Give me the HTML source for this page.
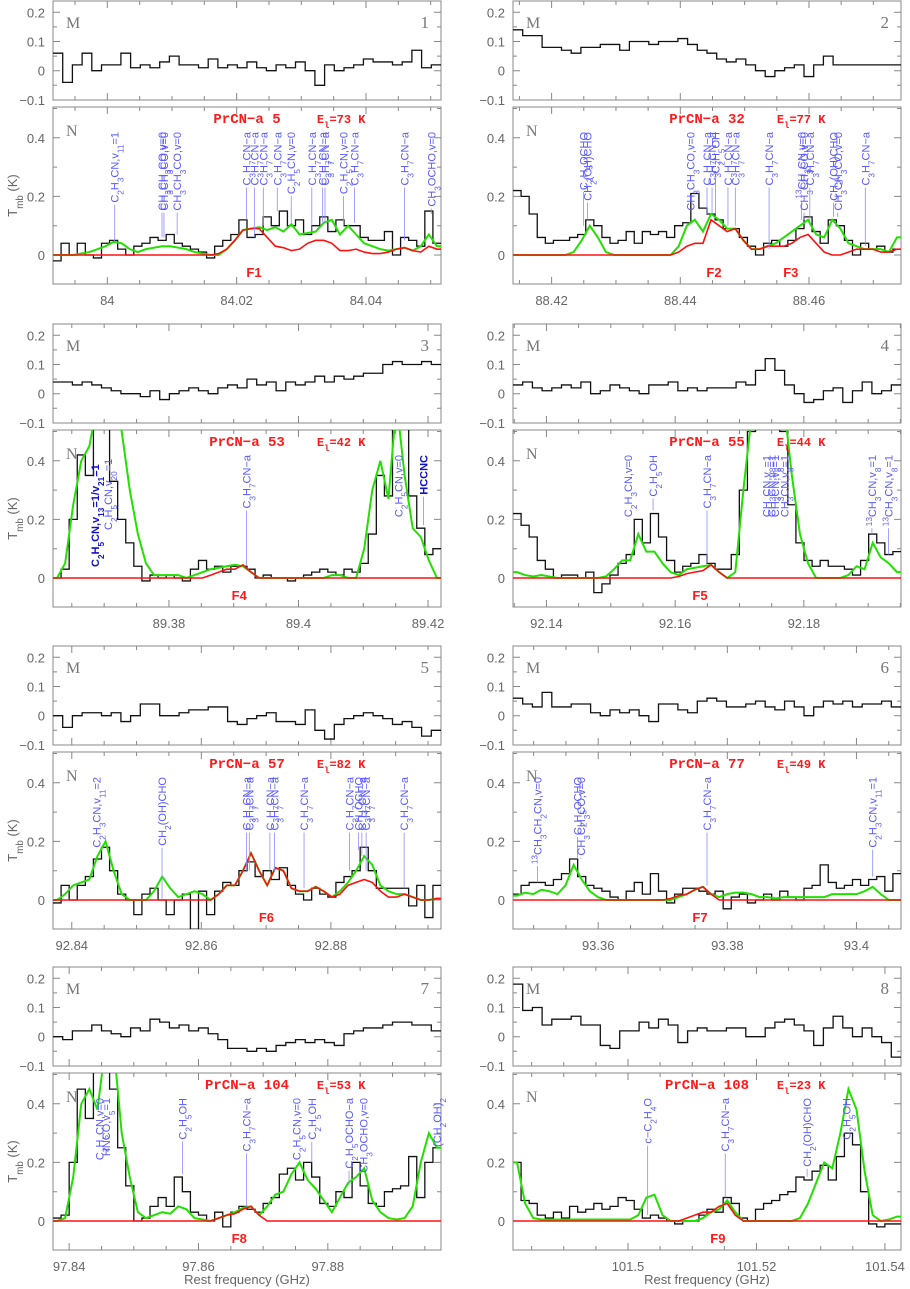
<!DOCTYPE html>
<html><head><meta charset="utf-8">
<style>
html,body{margin:0;padding:0;background:#fff;}
svg{display:block;}
</style></head>
<body>
<svg id="fig" width="910" height="1289" viewBox="0 0 910 1289" xmlns="http://www.w3.org/2000/svg"></svg>
<script>
// ---------- data ----------
const p1_range=[83.9916,84.0516];
const p1_ticks=[84,84.02,84.04];
const p1_M=[0.06,-0.04,0.02,0.06,0.0,0.02,0.02,0.06,0.01,0.02,0.01,0.03,0.05,0.02,0.02,0.01,0.04,0.01,0.02,0.01,0.03,0.01,0.0,0.02,0.01,0.03,0.0,-0.05,0.02,0.0,0.01,0.02,0.04,0.03,0.03,0.02,0.03,0.07,0.01,0.02];
const p1_obs=[-0.02,0.04,0.0,0.04,0.0,-0.01,0.04,0.05,0.02,0.0,0.03,0.04,0.06,0.05,0.07,0.04,0.03,0.02,0.01,-0.01,0.03,0.05,0.07,0.12,0.06,0.07,0.13,0.1,0.15,0.1,0.12,0.07,0.1,0.13,0.08,0.12,0.1,0.1,0.06,0.05,0.05,0.08,0.0,0.06,0.05,0.03,0.15,0.04];
const p1_model=[0,0,0,0.005,0.01,0.02,0.03,0.045,0.04,0.02,0.01,0.02,0.025,0.03,0.03,0.025,0.02,0.01,0.005,0,0,0.02,0.05,0.085,0.09,0.095,0.085,0.095,0.08,0.105,0.07,0.075,0.08,0.11,0.12,0.07,0.1,0.07,0.04,0.03,0.02,0.015,0.02,0.025,0.015,0.03,0.07,0.03];
const p1_fit=[0,0,0,0,0,0,0,0,0,0,0,0,0,0,0,0,0,0,0,0,0.005,0.02,0.05,0.085,0.09,0.09,0.06,0.03,0.025,0.015,0.02,0.04,0.05,0.05,0.04,0.015,0.015,0.02,0.01,0.005,0.005,0.01,0.02,0.025,0.015,0.01,0.03,0.02];

const p2_range=[88.414,88.4743];
const p2_ticks=[88.42,88.44,88.46];
const p2_M=[0.14,0.12,0.12,0.08,0.08,0.07,0.06,0.08,0.08,0.09,0.09,0.07,0.1,0.1,0.09,0.1,0.1,0.11,0.09,0.07,0.06,0.04,0.03,0.04,0.02,0.0,-0.02,0.0,0.01,0.02,-0.02,0.02,0.05,0.02,0.02,0.02,0.02,0.02,0.02,0.02];
const p2_obs=[0.22,0.2,0.14,0.06,0.04,0.05,0.05,0.06,0.07,0.12,0.1,0.06,0.04,0.05,0.08,0.04,0.08,0.07,0.08,0.06,0.1,0.11,0.21,0.16,0.14,0.12,0.09,0.09,0.06,0.03,0.0,0.04,0.05,0.03,0.05,0.09,0.13,0.08,0.04,0.12,0.1,0.05,0.0,0.04,0.02,0.03,0.01,0.02];
const p2_model=[0,0,0,0,0,0,0,0.01,0.05,0.1,0.06,0.01,0,0,0,0,0,0,0,0,0.03,0.1,0.12,0.08,0.14,0.12,0.09,0.09,0.05,0.02,0.02,0.03,0.04,0.06,0.08,0.1,0.12,0.07,0.06,0.12,0.09,0.04,0.03,0.02,0.02,0.02,0.01,0.06];
const p2_fit=[0,0,0,0,0,0,0,0,0,0,0,0,0,0,0,0,0,0,0,0,0.01,0.03,0.04,0.04,0.12,0.1,0.08,0.09,0.05,0.02,0.02,0.03,0.03,0.03,0.04,0.06,0.07,0.04,0.01,0.0,0.0,0.01,0.02,0.02,0.02,0.01,0.01,0.02];

const p3_range=[89.3621,89.422];
const p3_ticks=[89.38,89.4,89.42];
const p3_M=[0.04,0.04,0.03,0.04,0.03,0.02,0.01,0.0,0.0,-0.01,0.01,-0.02,0.0,0.01,0.02,0.01,0.0,0.02,0.03,0.02,0.05,0.03,0.04,0.01,0.04,0.03,0.04,0.06,0.04,0.06,0.05,0.06,0.07,0.07,0.1,0.11,0.1,0.1,0.11,0.1];
const p3_obs=[0.0,0.03,0.2,0.42,0.35,0.6,0.6,0.33,0.2,0.12,0.04,-0.01,0.01,0.0,0.01,0.0,-0.01,0.03,0.06,0.03,0.04,0.02,0.04,0.04,0.03,0.0,0.01,0.0,0.0,-0.01,0.0,0.01,0.02,0.03,0.02,0.01,0.03,0.02,0.05,0.15,0.35,0.28,0.6,0.55,0.28,0.17,0.08,0.1];
const p3_model=[0.0,0.05,0.25,0.4,0.45,0.6,0.6,0.6,0.5,0.3,0.15,0.05,0.01,0.01,0.01,0.01,0.0,0.01,0.02,0.03,0.035,0.04,0.045,0.04,0.02,0,0,0,0,0,0,0,0,0,0.01,0.01,0,0,0.1,0.3,0.4,0.27,0.6,0.35,0.17,0.14,0.06,0.0];
const p3_fit=[0,0,0,0,0,0,0,0,0,0,0,0,0,0,0,0,0,0,0,0.01,0.02,0.03,0.03,0.045,0.02,0,0,0,0,0,0,0,0,0,0,0,0,0,0,0,0,0,0,0,0,0,0,0];

const p4_range=[92.1348,92.1951];
const p4_ticks=[92.14,92.16,92.18];
const p4_M=[0.03,0.04,0.02,0.01,0.02,0.03,0.02,0.04,0.0,0.01,0.03,0.02,0.01,0.0,0.03,0.03,0.04,0.01,0.02,0.01,0.02,0.02,0.02,0.04,0.03,0.08,0.12,0.08,0.03,0.0,-0.03,-0.02,0.01,0.02,-0.03,0.01,0.04,0.0,0.01,0.03];
const p4_obs=[0.22,0.18,0.14,0.06,0.03,0.0,0.01,0.01,0.0,0.02,-0.05,-0.02,0.01,0.05,0.08,0.2,0.12,0.22,0.14,0.06,0.02,0.04,0.05,0.08,0.05,0.03,0.03,0.08,0.3,0.5,0.55,0.6,0.6,0.5,0.25,0.12,0.06,0.04,0.06,0.04,0.04,0.03,0.01,0.06,0.15,0.12,0.08,0.09];
const p4_model=[0.02,0.01,0.005,0.01,0.005,0,0,0,0,0,0,0.005,0.03,0.06,0.06,0.15,0.09,0.09,0.05,0.02,0.01,0.03,0.035,0.04,0.045,0.02,0.0,0.02,0.3,0.55,0.6,0.6,0.6,0.6,0.35,0.15,0.05,0,0,0,0,0.01,0.04,0.03,0.12,0.07,0.05,0.02];
const p4_fit=[0,0,0,0,0,0,0,0,0,0,0,0,0,0,0,0,0,0,0,0,0.005,0.015,0.02,0.025,0.045,0.02,0,0,0,0,0,0,0,0,0,0,0,0,0,0,0,0,0,0,0,0,0,0];

const p5_range=[92.8371,92.897];
const p5_ticks=[92.84,92.86,92.88];
const p5_M=[0.0,-0.04,0.0,0.01,0.01,0.0,0.01,-0.02,0.0,0.04,0.04,0.0,0.0,0.01,0.02,0.02,0.03,0.03,-0.02,-0.03,-0.01,0.0,0.01,-0.02,-0.02,-0.03,0.02,-0.05,-0.08,-0.03,-0.01,0.0,0.01,0.0,-0.01,-0.03,-0.02,-0.04,-0.07,-0.05];
const p5_obs=[-0.01,0.05,0.0,0.05,0.08,0.14,0.18,0.1,0.02,0.0,-0.05,0.02,0.04,0.0,-0.05,0.0,0.02,-0.1,0.03,-0.05,0.03,0.06,0.05,0.1,0.13,0.08,0.1,0.07,0.11,0.05,0.02,0.0,0.04,0.02,0.01,0.06,0.08,0.1,0.18,0.1,0.04,0.04,0.04,0.04,-0.02,0.05,-0.06,0.05];
const p5_model=[0,0.02,0.05,0.06,0.07,0.15,0.2,0.1,0.02,0,0,0,0.03,0.08,0.04,0.01,0.02,0.03,0.02,0,0.02,0.05,0.05,0.1,0.16,0.1,0.05,0.11,0.1,0.04,0.03,0.03,0.045,0.03,0.01,0.03,0.06,0.1,0.15,0.12,0.05,0.03,0.02,0.02,0.01,0,0,0.005];
const p5_fit=[0,0,0,0,0,0,0,0,0,0,0,0,0,0,0,0,0,0,0,0,0.02,0.05,0.05,0.1,0.16,0.1,0.05,0.11,0.1,0.04,0.03,0.03,0.045,0.03,0.01,0.02,0.05,0.06,0.07,0.06,0.03,0.01,0.01,0.02,0.01,0,0,0.005];

const p6_range=[93.3468,93.4069];
const p6_ticks=[93.36,93.38,93.4];
const p6_M=[0.06,0.04,0.03,0.08,0.03,0.03,0.04,0.04,0.01,0.0,0.02,0.01,0.02,0.0,-0.02,0.04,0.04,0.02,0.01,0.05,0.06,0.05,0.03,0.03,0.04,0.05,0.03,0.02,0.05,0.03,0.0,0.03,0.05,0.04,0.05,0.03,0.04,0.04,0.05,0.03];
const p6_obs=[0.02,0.05,0.06,0.06,0.05,0.07,0.09,0.14,0.08,0.05,0.04,0.03,0.01,0.0,0.03,0.06,0.02,0.09,0.03,-0.01,0.02,0.04,0.04,0.03,0.02,0.03,-0.03,0.01,0.02,-0.01,0.0,0.02,0.0,0.03,0.01,0.0,0.04,0.05,0.12,0.06,0.04,0.05,0.07,0.05,0.07,0.08,0.03,0.09];
const p6_model=[0.015,0.025,0.02,0.035,0.03,0.02,0.05,0.12,0.07,0.03,0.01,0,0,0,0,0,0,0,0,0,0.01,0.02,0.035,0.045,0.02,0.01,0.02,0.025,0.025,0.02,0.01,0.01,0.005,0.01,0.01,0.01,0.01,0.01,0.01,0.02,0.02,0.02,0.02,0.03,0.045,0.02,0,0];
const p6_fit=[0,0,0,0,0,0,0,0,0,0,0,0,0,0,0,0,0,0,0,0.005,0.015,0.02,0.035,0.045,0.02,0,0,0,0,0,0,0,0,0,0,0,0,0,0,0,0,0,0,0,0,0,0,0];

const p7_range=[97.8375,97.8975];
const p7_ticks=[97.84,97.86,97.88];
const p7_M=[0.0,-0.01,0.02,0.02,0.04,0.02,0.01,0.0,0.03,0.02,0.06,0.05,0.03,0.04,0.02,0.03,0.01,-0.01,-0.04,-0.04,-0.05,-0.04,-0.05,-0.03,-0.02,-0.01,-0.02,-0.01,-0.02,-0.03,0.01,0.02,0.03,0.03,0.04,0.05,0.05,0.04,0.04,0.02];
const p7_obs=[0.01,0.02,0.2,0.45,0.35,0.6,0.6,0.45,0.25,0.12,0.0,0.01,0.05,0.08,0.05,0.15,0.1,0.03,0.02,0.0,0.03,-0.02,0.03,0.05,0.04,0.03,0.06,0.08,0.16,0.18,0.14,0.2,0.15,0.06,0.05,0.1,0.08,0.2,0.12,0.06,0.05,0.1,0.11,0.12,0.22,0.08,0.2,0.25];
const p7_model=[0,0.01,0.15,0.4,0.45,0.38,0.6,0.6,0.3,0.15,0.03,0.01,0.02,0.03,0.025,0.05,0.04,0.01,0.005,0,0.01,0.02,0.03,0.045,0.05,0.02,0.05,0.09,0.1,0.16,0.2,0.14,0.11,0.07,0.03,0.08,0.13,0.15,0.18,0.07,0.03,0.01,0.005,0.01,0.05,0.2,0.3,0.25];
const p7_fit=[0,0,0,0,0,0,0,0,0,0,0,0,0,0,0,0,0,0,0,0,0.01,0.02,0.025,0.04,0.05,0.02,0,0,0,0,0,0,0,0,0,0,0,0,0,0,0,0,0,0,0,0,0,0];

const p8_range=[101.4821,101.5425];
const p8_ticks=[101.5,101.52,101.54];
const p8_M=[0.18,0.09,0.1,0.04,0.06,0.06,0.07,0.04,0.04,-0.03,-0.04,0.02,0.02,0.05,0.03,0.06,0.04,-0.02,0.02,0.03,0.02,0.02,0.03,0.03,0.0,0.0,0.03,0.05,0.06,0.04,0.02,-0.03,0.03,0.07,0.03,0.0,0.03,0.0,-0.02,-0.07];
const p8_obs=[0.2,0.07,0.06,0.02,0.01,0.03,0.01,0.05,0.03,0.04,0.06,0.04,0.05,0.08,0.07,0.04,0.01,0.02,0.01,0.0,-0.01,0.0,0.0,0.02,0.04,0.03,0.08,0.06,0.01,0.0,0.04,0.06,0.07,0.09,0.1,0.15,0.14,0.17,0.19,0.14,0.22,0.3,0.26,0.1,-0.01,-0.02,-0.01,-0.01];
const p8_model=[0.2,0.06,0.01,0.005,0.005,0.005,0.005,0.005,0.005,0.005,0.005,0.005,0.005,0.005,0.005,0.02,0.08,0.09,0.02,0,0,0,0,0.01,0.03,0.04,0.07,0.03,0,0,0,0,0,0,0,0.01,0.06,0.13,0.2,0.18,0.3,0.45,0.38,0.17,0.02,0,0.005,0.015];
const p8_fit=[0,0,0,0,0,0,0,0,0,0,0,0,0,0,0,0,0,0,0,0,0,0.01,0.02,0.03,0.03,0.05,0.06,0.02,0,0,0,0,0,0,0,0,0,0,0,0,0,0,0,0,0,0,0,0];

// panel annotations
const p1_title=["PrCN\u2212a 5","73","F1"];
const p2_title=["PrCN\u2212a 32","77","F2"];
const p3_title=["PrCN\u2212a 53","42","F4"];
const p4_title=["PrCN\u2212a 55","44","F5"];
const p5_title=["PrCN\u2212a 57","82","F6"];
const p6_title=["PrCN\u2212a 77","49","F7"];
const p7_title=["PrCN\u2212a 104","53","F8"];
const p8_title=["PrCN\u2212a 108","23","F9"];

const p1_lines=[[.159,"C_{2}H_{3}CN,v_{11}=1",.045],[.281,"CH_{3}CH_{3}CO,v=0",.06],[.286,"CH_{3}CH_{3}CO,v=0",.06],[.32,"CH_{3}CH_{3}CO,v=0",.07],[.499,"C_{3}H_{7}CN\u2212a",.12],[.519,"C_{3}H_{7}CN\u2212a",.06],[.542,"C_{3}H_{7}CN\u2212a",.1],[.578,"C_{3}H_{7}CN\u2212a",.15],[.614,"C_{2}H_{5}CN,v=0",.11],[.667,"C_{3}H_{7}CN\u2212a",.08],[.695,"C_{3}H_{7}CN\u2212a",.11],[.701,"C_{3}H_{7}CN\u2212a",.11],[.749,"C_{2}H_{5}CN,v=0",.1],[.777,"C_{3}H_{7}CN\u2212a",.11],[.906,"C_{3}H_{7}CN\u2212a",.05],[.975,"CH_{3}OCHO,v=0",.14]];
const p2_lines=[[.182,"C_{2}H_{5}OCHO",.1],[.192,"CH_{2}(OH)CHO",.12],[.457,"CH_{3}CH_{3}CO,v=0",.2],[.5,"C_{3}H_{7}CN\u2212a",.14],[.513,"C_{3}H_{7}CN\u2212a",.14],[.522,"C_{2}H_{5}OH",.14],[.554,"C_{3}H_{7}CN\u2212a",.1],[.573,"C_{3}H_{7}CN\u2212a",.1],[.66,"C_{3}H_{7}CN\u2212a",.02],[.744,"^{13}CH_{3}CN,v=0",.12],[.75,"CH_{3}CH_{3}CO,v=0",.12],[.765,"C_{3}H_{7}CN\u2212a",.1],[.826,"CH_{2}(OH)CHO",.13],[.837,"CH_{3}CH_{3}CO,v=0",.13],[.908,"C_{3}H_{7}CN\u2212a",.03]];
const p3_lines=[[.499,"C_{3}H_{7}CN\u2212a",.045],[.891,"C_{2}H_{5}CN,v=0",.3],[.955,"HCCNC",.18]];
const p4_lines=[[.296,"C_{2}H_{3}CN,v=0",.2],[.361,"C_{2}H_{5}OH",.23],[.5,"C_{3}H_{7}CN\u2212a",.05],[.653,"CH_{3}CN,v_{8}=1",.5],[.666,"CH_{3}CN,v_{8}=1",.5],[.675,"CH_{3}CN,v_{8}=1",.5],[.7,"CH_{3}CN,v_{8}=1",.5],[.925,"^{13}CH_{3}CN,v_{8}=1",.15],[.968,"^{13}CH_{3}CN,v_{8}=1",.08]];
const p5_lines=[[.112,"C_{2}H_{3}CN,v_{11}=2",.18],[.281,"CH_{2}(OH)CHO",.0],[.499,"C_{3}H_{7}CN\u2212a",.1],[.506,"C_{3}H_{7}CN\u2212a",.1],[.559,"C_{3}H_{7}CN\u2212a",.1],[.571,"C_{3}H_{7}CN\u2212a",.1],[.647,"C_{3}H_{7}CN\u2212a",.04],[.764,"C_{3}H_{7}CN\u2212a",.1],[.787,"CH_{3}OCHO",.17],[.796,"C_{3}H_{7}CN\u2212a",.15],[.807,"C_{3}H_{7}CN\u2212a",.1],[.905,"C_{3}H_{7}CN\u2212a",.04]];
const p6_lines=[[.063,"^{13}CH_{3}CH_{2}CN,v=0",.06],[.166,"C_{2}H_{5}OCHO",.14],[.175,"CH_{3}CH_{3}CO,v=0",.14],[.5,"C_{3}H_{7}CN\u2212a",.05],[.927,"C_{2}H_{3}CN,v_{11}=1",.08]];
const p7_lines=[[.12,"C_{2}H_{5}CN,v=0",.3],[.136,"HNCO,v_{5}=1",.3],[.334,"C_{2}H_{5}OH",.16],[.499,"C_{3}H_{7}CN\u2212a",.05],[.628,"C_{2}H_{5}CN,v=0",.2],[.667,"C_{2}H_{5}OH",.2],[.763,"C_{2}H_{5}OCHO\u2212a",.12],[.8,"CH_{3}OCHO,v=0",.2],[.99,"(CH_{2}OH)_{2}",.25]];
const p8_lines=[[.347,"c\u2212C_{2}H_{4}O",.02],[.547,"C_{3}H_{7}CN\u2212a",.08],[.758,"CH_{2}(OH)CHO",.15],[.86,"C_{2}H_{5}OH",.3]];

const panels=[
 {n:1,range:p1_range,ticks:p1_ticks,M:p1_M,obs:p1_obs,model:p1_model,fit:p1_fit,title:p1_title,lines:p1_lines,f2:0.716,fx:.518},
 {n:2,range:p2_range,ticks:p2_ticks,M:p2_M,obs:p2_obs,model:p2_model,fit:p2_fit,title:p2_title,lines:p2_lines,fx:.518,extraF:["F3",.716]},
 {n:3,range:p3_range,ticks:p3_ticks,M:p3_M,obs:p3_obs,model:p3_model,fit:p3_fit,title:p3_title,lines:p3_lines,fx:.48},
 {n:4,range:p4_range,ticks:p4_ticks,M:p4_M,obs:p4_obs,model:p4_model,fit:p4_fit,title:p4_title,lines:p4_lines,fx:.482},
 {n:5,range:p5_range,ticks:p5_ticks,M:p5_M,obs:p5_obs,model:p5_model,fit:p5_fit,title:p5_title,lines:p5_lines,fx:.55},
 {n:6,range:p6_range,ticks:p6_ticks,M:p6_M,obs:p6_obs,model:p6_model,fit:p6_fit,title:p6_title,lines:p6_lines,fx:.482},
 {n:7,range:p7_range,ticks:p7_ticks,M:p7_M,obs:p7_obs,model:p7_model,fit:p7_fit,title:p7_title,lines:p7_lines,fx:.48},
 {n:8,range:p8_range,ticks:p8_ticks,M:p8_M,obs:p8_obs,model:p8_model,fit:p8_fit,title:p8_title,lines:p8_lines,fx:.528}
];

// ---------- drawing ----------
const NS="http://www.w3.org/2000/svg";
const svg=document.getElementById('fig');
function mk(tag,attrs,parent){const e=document.createElementNS(NS,tag);for(const k in attrs)e.setAttribute(k,attrs[k]);(parent||svg).appendChild(e);return e;}
const ROWS=[0,323,645,966];
const W=388;
function richText(t,str,size){
  // parse _{..} subscripts and ^{..} superscripts
  const re=/([_^])\{([^}]*)\}/g;let last=0,m;
  while((m=re.exec(str))){
    if(m.index>last){const s=mk('tspan',{},t);s.textContent=str.slice(last,m.index);}
    const s=mk('tspan',{'baseline-shift':m[1]=='_'?'sub':'super','font-size':size*0.75},t);s.textContent=m[2];
    last=re.lastIndex;
  }
  if(last<str.length){const s=mk('tspan',{},t);s.textContent=str.slice(last);}
}
panels.forEach((p,k)=>{
  const col=k%2,row=Math.floor(k/2),o=ROWS[row];
  const x0=col?513:53,x1=x0+W;
  const f0=p.range[0],f1=p.range[1];
  const X=f=>x0+(f-f0)/(f1-f0)*W;
  const Mtop=1+o,Mbot=100+o,My=v=>70.7+o-v*292;
  const Ntop=107+o,Nbot=284+o,Ny=v=>255+o-v*293;
  const g=mk('g',{});
  
  
  const cid='clip'+k;
  const defs=mk('defs',{},g);
  const c1=mk('clipPath',{id:cid+'m'},defs);mk('rect',{x:x0,y:Mtop,width:W,height:Mbot-Mtop},c1);
  const c2=mk('clipPath',{id:cid+'n'},defs);mk('rect',{x:x0,y:Ntop,width:W,height:Nbot-Ntop},c2);

  // frames, ticks
  [[Mtop,Mbot,My,0.1,0.05,[-0.1,0,0.1,0.2],'m'],[Ntop,Nbot,Ny,0.2,0.1,[0,0.2,0.4],'n']].forEach(([t,b,Y,maj,mn,labs,kind])=>{
    const fr=mk('rect',{x:x0,y:t,width:W,height:b-t,fill:'none',stroke:'#888','stroke-width':1},g);
    
    
    let d='';
    for(let v=-0.2;v<=0.6;v+=mn){const vv=Math.round(v*100)/100;const y=Y(vv);if(y<t+0.5||y>b-0.5)continue;
      const isMaj=Math.abs(vv/maj-Math.round(vv/maj))<1e-6;const L=isMaj?7:4;
      d+=`M${x0},${y}h${L}M${x1},${y}h${-L}`;}
    for(let f=Math.ceil(f0/0.005)*0.005;f<=f1;f+=0.005){const ff=Math.round(f*1000)/1000;const x=X(ff);
      const isMaj=Math.abs(ff/0.02-Math.round(ff/0.02))<1e-6;const L=isMaj?7:4;
      d+=`M${x},${b}v${-L}M${x},${t}v${L}`;}
    const tk=mk('path',{d:d,stroke:'#888','stroke-width':1,fill:'none'},g);
    
    
    labs.forEach(v=>{const y=Y(v);if(y<t-1||y>b+1)return;
      const tx=mk('text',{x:x0-8,y:y+5,'text-anchor':'end','font-family':'Liberation Sans, sans-serif','font-size':13,fill:'#666'},g);
      tx.textContent=(v<0?'\u2212':'')+Math.abs(v).toString().replace(/^0$/,'0');
      
      });
  });
  // x tick labels
  p.ticks.forEach(f=>{const tx=mk('text',{x:X(f),y:Nbot+21,'text-anchor':'middle','font-family':'Liberation Sans, sans-serif','font-size':13,fill:'#666'},g);
    tx.textContent=String(f);
    
    });

  // step line
  function step(vals,Y){const n=vals.length,dw=(f1-f0)/n;let d='';
    vals.forEach((v,i)=>{const xa=X(f0+i*dw),xb=X(f0+(i+1)*dw),y=Y(v);d+=(i?'L':'M')+xa+','+y+'L'+xb+','+y;});return d;}
  function smooth(vals,Y){const n=vals.length,dw=(f1-f0)/n;let d='M'+x0+','+Y(vals[0]);
    vals.forEach((v,i)=>{d+='L'+X(f0+(i+0.5)*dw)+','+Y(v);});d+='L'+x1+','+Y(vals[n-1]);return d;}
  const mline=mk('path',{d:step(p.M,My),fill:'none',stroke:'#111','stroke-width':1.3,'clip-path':`url(#${cid}m)`},g);
  
  
  const obs=mk('path',{d:step(p.obs,Ny),fill:'none',stroke:'#111','stroke-width':1.3,'clip-path':`url(#${cid}n)`},g);
  
  
  const mod=mk('path',{d:smooth(p.model,Ny),fill:'none',stroke:'#22e000','stroke-width':2,'clip-path':`url(#${cid}n)`},g);
  
  
  const fit=mk('path',{d:smooth(p.fit,Ny),fill:'none',stroke:'#ff1010','stroke-width':1.6,'clip-path':`url(#${cid}n)`},g);
  
  

  // line identifications
  p.lines.forEach(([fx,txt,val])=>{
    const x=x0+fx*W;
    const dark=(txt=="HCCNC");
    const t=mk('text',{transform:`translate(${x+4},${Ntop+25}) rotate(-90)`,'text-anchor':'end','font-family':'Liberation Sans, sans-serif','font-size':11,fill:dark?'#1010d0':'#5a5aff','font-weight':dark?'bold':'normal'},g);
    richText(t,txt,11);
    
    
    const len=t.getComputedTextLength?t.getComputedTextLength():txt.length*5;
    const ytop=Ntop+25+len+2,yb=Ny(val);
    if(yb>ytop){const ln=mk('line',{x1:x,x2:x,y1:ytop,y2:yb,stroke:'#8c8cff','stroke-width':0.8},g);
      
      }
  });
  if(p.n==3){
    const t=mk('text',{transform:`translate(${x0+0.108*W+4},${Ntop+137}) rotate(-90)`,'font-family':'Liberation Sans, sans-serif','font-size':11,fill:'#1010d0','font-weight':'bold'},g);
    richText(t,"C_{2}H_{5}CN,v_{13}=1/v_{21}=1",11);
    
    
    const t2=mk('text',{transform:`translate(${x0+0.142*W+4},${Ntop+100}) rotate(-90)`,'font-family':'Liberation Sans, sans-serif','font-size':11,fill:'#5a5aff'},g);
    richText(t2,"C_{2}H_{5}CN,v_{20}=1",11);
    
    
  }

  // labels
  const lm=mk('text',{x:x0+13,y:Mtop+27,'font-family':'Liberation Serif, serif','font-size':16,fill:'#777'},g);lm.textContent='M';
  
  
  const ln=mk('text',{x:x0+13,y:Ntop+29,'font-family':'Liberation Serif, serif','font-size':16,fill:'#777'},g);ln.textContent='N';
  
  
  const num=mk('text',{x:x1-12,y:Mtop+27,'text-anchor':'end','font-family':'Liberation Serif, serif','font-size':17,fill:'#777'},g);num.textContent=String(p.n);
  
  
  const ti=mk('text',{x:x0+0.5*W,y:Ntop+16,'text-anchor':'middle','font-family':'Liberation Mono, monospace','font-size':14,'font-weight':'bold',fill:'#ff1a1a'},g);ti.textContent=p.title[0];
  
  
  const el=mk('text',{x:x0+0.68*W,y:Ntop+16,'font-family':'Liberation Mono, monospace','font-size':12,'font-weight':'bold',fill:'#ff1a1a'},g);
  richText(el,"E_{l}="+p.title[1]+" K",12);
  
  
  const fl=mk('text',{x:x0+p.fx*W,y:Ntop+170,'text-anchor':'middle','font-family':'Liberation Sans, sans-serif','font-size':13,'font-weight':'bold',fill:'#ff1a1a'},g);fl.textContent=p.title[2];
  
  
  if(p.extraF){const f3=mk('text',{x:x0+p.extraF[1]*W,y:Ntop+170,'text-anchor':'middle','font-family':'Liberation Sans, sans-serif','font-size':13,'font-weight':'bold',fill:'#ff1a1a'},g);f3.textContent=p.extraF[0];
    
    }
  if(col==0){
    const yt=mk('text',{transform:`translate(17,${(Ntop+Nbot)/2}) rotate(-90)`,'text-anchor':'middle','font-family':'Liberation Sans, sans-serif','font-size':13,fill:'#666'},g);
    richText(yt,"T_{mb} (K)",13);
    
    
  }
  if(row==3){
    const xt=mk('text',{x:x0+W/2,y:1284,'text-anchor':'middle','font-family':'Liberation Sans, sans-serif','font-size':13,fill:'#666'},g);
    xt.textContent='Rest frequency (GHz)';
    
    
  }
});
</script>
</body></html>
